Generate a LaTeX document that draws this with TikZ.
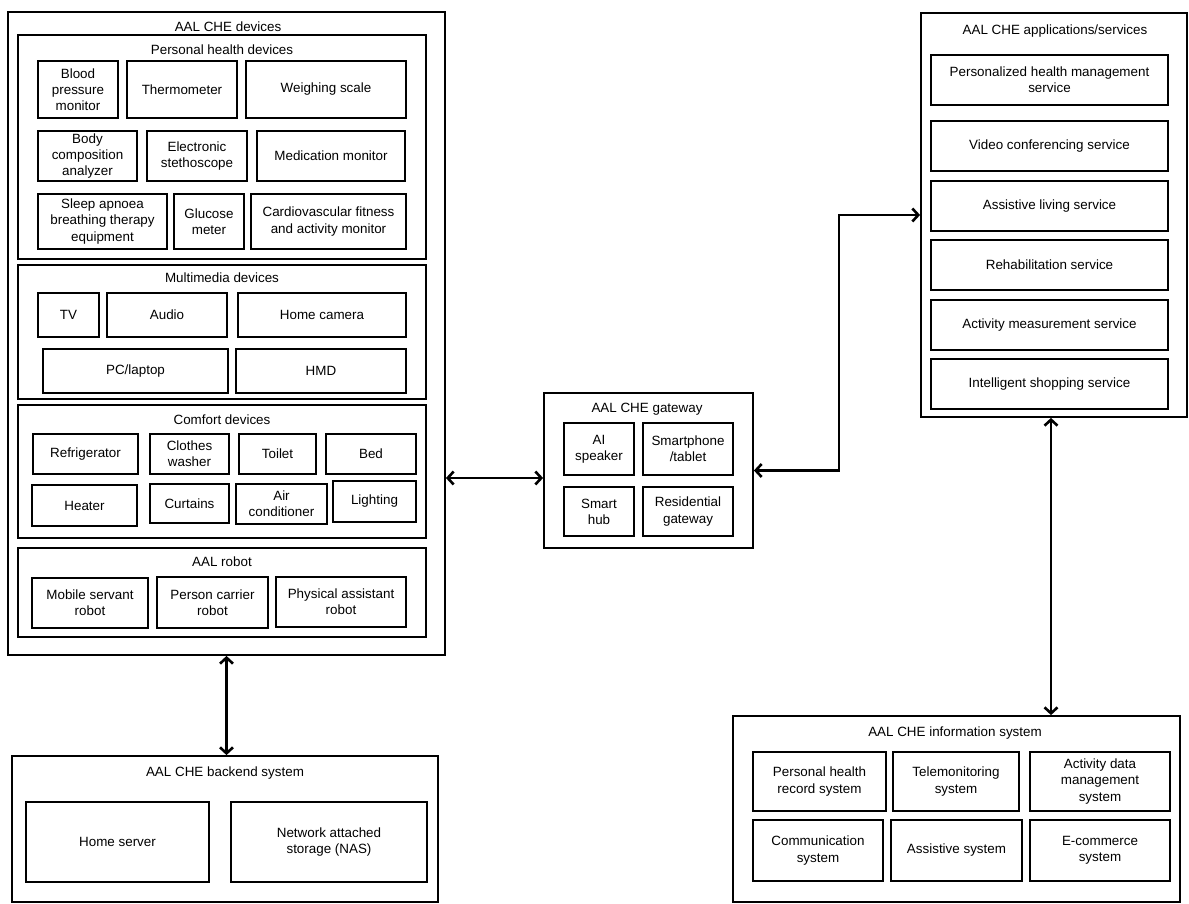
\documentclass[tikz,border=0pt]{standalone}
\usepackage{fontspec}
\setmainfont{Liberation Sans}
\usetikzlibrary{arrows.meta}
\tikzstyle{container} = [rectangle, draw=black, line width=1.8, inner sep=0pt]
\tikzstyle{group} = [rectangle, draw=black, line width=2.2, inner sep=0pt]
\tikzstyle{item} = [rectangle, draw=black, line width=2.9, inner sep=0pt, align=center]
\tikzstyle{title} = [inner sep=0pt, text height=9.5, text depth=0]
\tikzstyle{arrow} = [line width=2.6, {Straight Barb[length=6pt,width=13pt]}-{Straight Barb[length=6pt,width=13pt]}]
\begin{document}
\begin{tikzpicture}[x=1pt, y=-1pt, every node/.style={font=\fontsize{13.4}{16.2}\selectfont}]
\useasboundingbox (0,0) rectangle (1189,904);
% AAL CHE devices
\node (node0) [container, minimum width=437, minimum height=643] at (226.5, 333.5) {};
\node (node1) [title] at (228, 27) {AAL CHE devices};
\node (node2) [group, minimum width=408, minimum height=224] at (222, 147) {};
\node (node3) [title] at (222, 50) {Personal health devices};
\node (node4) [item, minimum width=80, minimum height=57] at (78, 89.5) {Blood\\pressure\\monitor};
\node (node5) [item, minimum width=110, minimum height=57] at (182, 89.5) {Thermometer};
\node (node6) [item, minimum width=160, minimum height=57] at (326, 89.5) {Weighing scale};
\node (node7) [item, minimum width=99, minimum height=50] at (87.5, 156) {Body\\composition\\analyzer};
\node (node8) [item, minimum width=100, minimum height=50] at (197, 156) {Electronic\\stethoscope};
\node (node9) [item, minimum width=148, minimum height=50] at (331, 156) {Medication monitor};
\node (node10) [item, minimum width=129, minimum height=55] at (102.5, 221.5) {Sleep apnoea\\breathing therapy\\equipment};
\node (node11) [item, minimum width=70, minimum height=55] at (209, 221.5) {Glucose\\meter};
\node (node12) [item, minimum width=155, minimum height=55] at (328.5, 221.5) {Cardiovascular fitness\\and activity monitor};
\node (node13) [group, minimum width=408, minimum height=134] at (222, 332) {};
\node (node14) [title] at (222, 278) {Multimedia devices};
\node (node15) [item, minimum width=61, minimum height=44] at (68.5, 315) {TV};
\node (node16) [item, minimum width=120, minimum height=44] at (167, 315) {Audio};
\node (node17) [item, minimum width=168, minimum height=44] at (322, 315) {Home camera};
\node (node18) [item, minimum width=185, minimum height=44] at (135.5, 371) {PC/laptop};
\node (node19) [item, minimum width=170, minimum height=44] at (321, 371) {HMD};
\node (node20) [group, minimum width=408, minimum height=133] at (222, 471.5) {};
\node (node21) [title] at (222, 420) {Comfort devices};
\node (node22) [item, minimum width=105, minimum height=40] at (85.5, 454) {Refrigerator};
\node (node23) [item, minimum width=79, minimum height=40] at (189.5, 454) {Clothes\\washer};
\node (node24) [item, minimum width=77, minimum height=40] at (277.5, 454) {Toilet};
\node (node25) [item, minimum width=90, minimum height=40] at (371, 454) {Bed};
\node (node26) [item, minimum width=105, minimum height=41] at (84.5, 505.5) {Heater};
\node (node27) [item, minimum width=79, minimum height=39] at (189.5, 503.5) {Curtains};
\node (node28) [item, minimum width=91, minimum height=40] at (281.5, 504) {Air\\conditioner};
\node (node29) [item, minimum width=83, minimum height=41] at (374.5, 501.5) {Lighting};
\node (node30) [group, minimum width=408, minimum height=89] at (222, 592.5) {};
\node (node31) [title] at (222, 562) {AAL robot};
\node (node32) [item, minimum width=116, minimum height=50] at (90, 603) {Mobile servant\\robot};
\node (node33) [item, minimum width=111, minimum height=51] at (212.5, 602.5) {Person carrier\\robot};
\node (node34) [item, minimum width=130, minimum height=50] at (341, 602) {Physical assistant\\robot};
% AAL CHE backend system
\node (node35) [container, minimum width=426, minimum height=146] at (225, 829) {};
\node (node36) [title] at (225, 772) {AAL CHE backend system};
\node (node37) [item, line width=2.4, minimum width=183, minimum height=80] at (117.5, 842) {Home server};
\node (node38) [item, line width=2.4, minimum width=196, minimum height=80] at (329, 842) {Network attached\\storage (NAS)};
\draw [arrow] (node0.south) -- (node0.south |- node35.north);
% AAL CHE gateway
\node (node39) [container, minimum width=209, minimum height=155] at (648.5, 470.5) {};
\node (node40) [title] at (647, 408) {AAL CHE gateway};
\node (node41) [item, minimum width=70, minimum height=52] at (599, 449) {AI\\speaker};
\node (node42) [item, minimum width=90, minimum height=52] at (688, 449) {Smartphone\\/tablet};
\node (node43) [item, minimum width=70, minimum height=49] at (599, 511.5) {Smart\\hub};
\node (node44) [item, minimum width=90, minimum height=49] at (688, 511.5) {Residential\\gateway};
\draw [arrow] ([yshift=-7.5pt]node39.west -| node0.east) -- ([yshift=-7.5pt]node39.west);
% AAL CHE applications/services
\node (node45) [container, minimum width=266, minimum height=404] at (1054, 215) {};
\node (node46) [title] at (1055, 30) {AAL CHE applications/services};
\node (node47) [item, minimum width=237, minimum height=50] at (1049.5, 80) {Personalized health management\\service};
\node (node48) [item, minimum width=237, minimum height=50] at (1049.5, 146) {Video conferencing service};
\node (node49) [item, minimum width=237, minimum height=50] at (1049.5, 206) {Assistive living service};
\node (node50) [item, minimum width=237, minimum height=50] at (1049.5, 265) {Rehabilitation service};
\node (node51) [item, minimum width=237, minimum height=50] at (1049.5, 325) {Activity measurement service};
\node (node52) [item, minimum width=237, minimum height=50] at (1049.5, 384) {Intelligent shopping service};
\draw [arrow] (node39.east) -- ++(85, 0) |- (node45.west);
% AAL CHE information system
\node (node53) [container, minimum width=447, minimum height=186] at (956.5, 809) {};
\node (node54) [title] at (955, 732) {AAL CHE information system};
\node (node55) [item, minimum width=133, minimum height=59] at (819.5, 781.5) {Personal health\\record system};
\node (node56) [item, minimum width=126, minimum height=59] at (956, 781.5) {Telemonitoring\\system};
\node (node57) [item, minimum width=140, minimum height=59] at (1100, 781.5) {Activity data\\management\\system};
\node (node58) [item, minimum width=130, minimum height=61] at (818, 850.5) {Communication\\system};
\node (node59) [item, minimum width=131, minimum height=61] at (956.5, 850.5) {Assistive system};
\node (node60) [item, minimum width=140, minimum height=61] at (1100, 850.5) {E-commerce\\system};
\draw [arrow] ([xshift=-3pt]node45.south) -- ([xshift=-3pt]node45.south |- node53.north);
\end{tikzpicture}
\end{document}
